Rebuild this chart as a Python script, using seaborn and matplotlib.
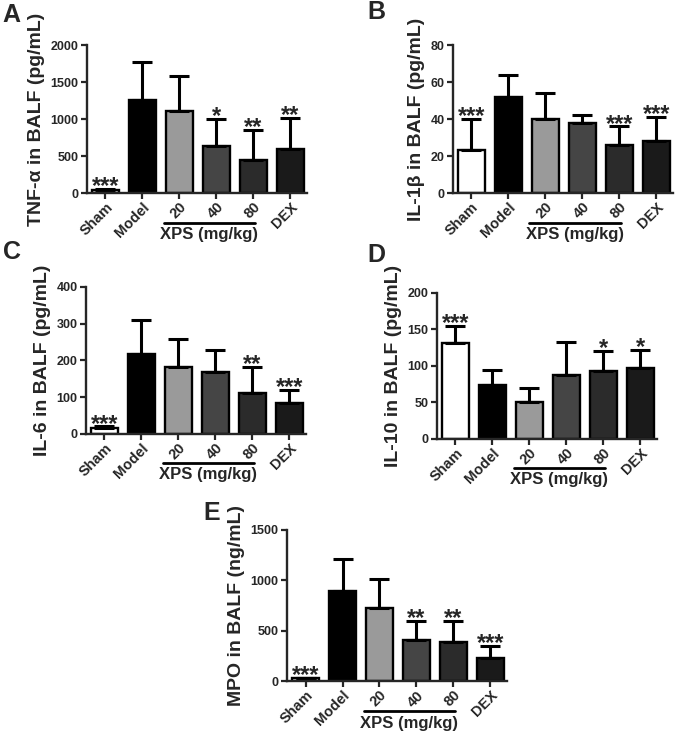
import numpy as np
import pandas as pd
import seaborn as sns
import matplotlib.pyplot as plt
import matplotlib.transforms as mtransforms

sns.set_style("ticks")
plt.rcParams['font.family'] = ['Liberation Sans', 'DejaVu Sans']
plt.rcParams['font.weight'] = 'bold'

groups = ['Sham', 'Model', '20', '40', '80', 'DEX']
bar_colors = ['#ffffff', '#000000', '#9a9a9a', '#454545', '#2b2b2b', '#1a1a1a']

# panel data: mean, upper error bar end, significance stars
tnf_mean = [40, 1260, 1110, 630, 450, 590]
tnf_top = [60, 1770, 1580, 1000, 850, 1010]
tnf_sig = ['***', '', '', '*', '**', '**']

il1b_mean = [23, 52, 40, 38, 26, 28]
il1b_top = [40, 64, 54, 42, 36, 41]
il1b_sig = ['***', '', '', '', '***', '***']

il6_mean = [15, 218, 183, 168, 110, 85]
il6_top = [20, 310, 257, 227, 183, 120]
il6_sig = ['***', '', '', '', '**', '***']

il10_mean = [132, 74, 51, 88, 93, 97]
il10_top = [155, 94, 70, 133, 121, 122]
il10_sig = ['***', '', '', '', '*', '*']

mpo_mean = [30, 895, 725, 410, 385, 230]
mpo_top = [35, 1215, 1010, 600, 600, 350]
mpo_sig = ['***', '', '', '**', '**', '***']

panels = [
    ('A', 'TNF-α in BALF (pg/mL)', tnf_mean, tnf_top, tnf_sig, 2000, 500, [0.1285, 0.737, 0.325, 0.2016]),
    ('B', 'IL-1β in BALF (pg/mL)', il1b_mean, il1b_top, il1b_sig, 80, 20, [0.669, 0.737, 0.325, 0.2016]),
    ('C', 'IL-6 in BALF (pg/mL)', il6_mean, il6_top, il6_sig, 400, 100, [0.127, 0.409, 0.325, 0.200]),
    ('D', 'IL-10 in BALF (pg/mL)', il10_mean, il10_top, il10_sig, 200, 50, [0.6455, 0.402, 0.325, 0.199]),
    ('E', 'MPO in BALF (ng/mL)', mpo_mean, mpo_top, mpo_sig, 1500, 500, [0.424, 0.072, 0.325, 0.206]),
]
letter_pos = {'A': (0.004, 0.980), 'B': (0.542, 0.983), 'C': (0.004, 0.657), 'D': (0.542, 0.653), 'E': (0.301, 0.301)}

fig = plt.figure(figsize=(6.77, 7.34), dpi=100)
fig.patch.set_facecolor('white')

for letter, ylabel, mean, top, sig, ymax, ystep, rect in panels:
    ax = fig.add_axes(rect)
    df = pd.DataFrame({'group': groups, 'value': mean})
    sns.barplot(data=df, x='group', y='value', hue='group', palette=dict(zip(groups, bar_colors)),
                order=groups, legend=False, width=0.73, edgecolor='black', linewidth=1.7, ax=ax)
    x = np.arange(len(groups))
    err = np.array(top) - np.array(mean)
    ax.errorbar(x, mean, yerr=[np.zeros(len(x)), err], fmt='none', ecolor='black',
                elinewidth=2.2, capsize=7, capthick=2.2, zorder=1)
    for xi, t, s in zip(x, top, sig):
        if s:
            ax.annotate(s, (xi, t), xytext=(0, -3), textcoords='offset points',
                        ha='center', va='baseline', fontsize=17, fontweight='bold')
    ax.set_xlim(-0.5, 5.45)
    ax.set_ylim(0, ymax)
    ax.set_yticks(np.arange(0, ymax + 1, ystep))
    ax.set_xlabel('')
    ax.set_ylabel(ylabel, fontsize=14, fontweight='bold', labelpad=4)
    ax.set_xticks(x)
    ax.set_xticklabels(groups, rotation=45, ha='right', rotation_mode='anchor', fontsize=10.5, fontweight='bold')
    for lbl in ax.get_yticklabels():
        lbl.set_fontweight('bold')
        lbl.set_fontsize(9)
    ax.tick_params(axis='both', width=1.6, length=4, pad=2)
    ax.tick_params(axis='x', pad=1)
    ax.spines[['right', 'top']].set_visible(False)
    ax.spines[['left', 'bottom']].set_linewidth(1.7)
    ax.set_facecolor('white')
    # XPS dose bracket under 20-80
    trans = mtransforms.blended_transform_factory(ax.transData, ax.transAxes)
    ax.plot([1.57, 4.05], [-0.2, -0.2], color='black', lw=2, transform=trans, clip_on=False)
    ax.text(2.8, -0.228, 'XPS (mg/kg)', transform=trans, ha='center', va='top', fontsize=12, fontweight='bold')
    lx, ly = letter_pos[letter]
    fig.text(lx, ly, letter, fontsize=18, fontweight='bold', ha='left', va='center')

fig.savefig('out.png', dpi=100, facecolor='white')
